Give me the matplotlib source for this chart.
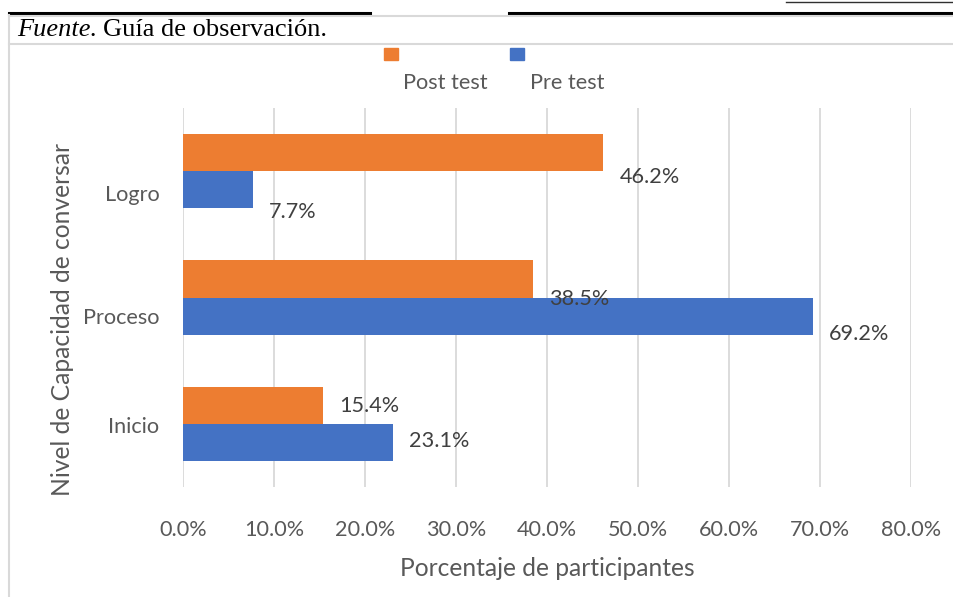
import numpy as np
import matplotlib.pyplot as plt
from matplotlib.lines import Line2D
from matplotlib.patches import Rectangle
import matplotlib.transforms as mtransforms

plt.rcParams['font.family'] = ['Lato', 'DejaVu Sans']

# data
categorias = ['Inicio', 'Proceso', 'Logro']
post_test = [15.4, 38.5, 46.2]
pre_test = [23.1, 69.2, 7.7]
xticks = [0, 10, 20, 30, 40, 50, 60, 70, 80]

naranja = '#ED7D31'
azul = '#4472C4'
W, H = 954, 597
fs = 15.6

fig = plt.figure(figsize=(W / 100, H / 100), dpi=100)

# document decoration (page lines, box, source note)
def hline(y, x0, x1, color, lw):
    fig.add_artist(Line2D([x0 / W, x1 / W], [1 - y / H, 1 - y / H], color=color, lw=lw))

hline(2, 786, 954, '#303030', 1.0)
hline(13, 9, 370, 'black', 2.2)
hline(13, 509, 954, 'black', 2.2)
hline(16, 9, 954, '#d9d9d9', 1.5)
hline(44, 9, 954, '#d9d9d9', 1.5)
fig.add_artist(Line2D([9 / W, 9 / W], [1 - 15 / H, 0], color='#d9d9d9', lw=1.5))

fig.text(17 / W, 1 - 30 / H, 'Fuente.', family='Liberation Serif', style='italic',
         fontsize=19, va='center', ha='left')
fig.text(103 / W, 1 - 30 / H, 'Guía de observación.', family='Liberation Serif',
         fontsize=19, va='center', ha='left')

# legend (Excel style: markers above text)
fig.add_artist(Rectangle((384 / W, 1 - 60 / H), 14 / W, 12 / H, color=naranja))
fig.add_artist(Rectangle((510 / W, 1 - 60 / H), 14 / W, 12 / H, color=azul))
fig.text(445 / W, 1 - 83 / H, 'Post test', ha='center', va='center', fontsize=fs, color='#595959')
fig.text(567 / W, 1 - 83 / H, 'Pre test', ha='center', va='center', fontsize=fs, color='#595959')

ax = fig.add_axes([183 / W, 1 - 487 / H, (911 - 183) / W, (487 - 108) / H])

y = np.arange(len(categorias))
h = 0.295
b_post = ax.barh(y + h / 2, post_test, height=h, color=naranja, zorder=2)
b_pre = ax.barh(y - h / 2, pre_test, height=h, color=azul, zorder=2)

# label vertical shifts (pixels) as rendered in the original
desplaz = [-1, -20, -24]
for i in range(len(categorias)):
    ax.annotate(f'{post_test[i]:.1f}%', (post_test[i], y[i] + h / 2),
                xytext=(11.5, desplaz[i] * 0.72), textcoords='offset points',
                ha='left', va='center', fontsize=fs, color='#404040', zorder=3)
    ax.annotate(f'{pre_test[i]:.1f}%', (pre_test[i], y[i] - h / 2),
                xytext=(11.5, (desplaz[i] + 2) * 0.72), textcoords='offset points',
                ha='left', va='center', fontsize=fs, color='#404040', zorder=3)

ax.set_xlim(0, 80)
ax.set_ylim(-0.5, 2.5)
ax.set_xticks(xticks)
ax.set_xticklabels([f'{v:.1f}%' for v in xticks])
ax.set_yticks(y)
ax.set_yticklabels(categorias)
ax.xaxis.grid(True, color='#d9d9d9', lw=1.3)
ax.set_axisbelow(True)
for s in ax.spines.values():
    s.set_visible(False)
ax.tick_params(axis='both', length=0, labelsize=fs, labelcolor='#595959')
ax.tick_params(axis='x', pad=24)
ax.tick_params(axis='y', pad=17)

desp_tick = [-1, -19, -22]
for lab, d in zip(ax.get_yticklabels(), desp_tick):
    lab.set_transform(lab.get_transform() + mtransforms.ScaledTranslation(0, d / 100, fig.dpi_scale_trans))

fig.text(547 / W, 1 - 568 / H, 'Porcentaje de participantes', ha='center', va='center',
         fontsize=17.7, color='#595959')
fig.text(63 / W, 1 - 320 / H, 'Nivel de Capacidad de conversar', ha='center', va='center',
         rotation=90, fontsize=17.7, color='#595959')

fig.savefig('out.png', dpi=100)
